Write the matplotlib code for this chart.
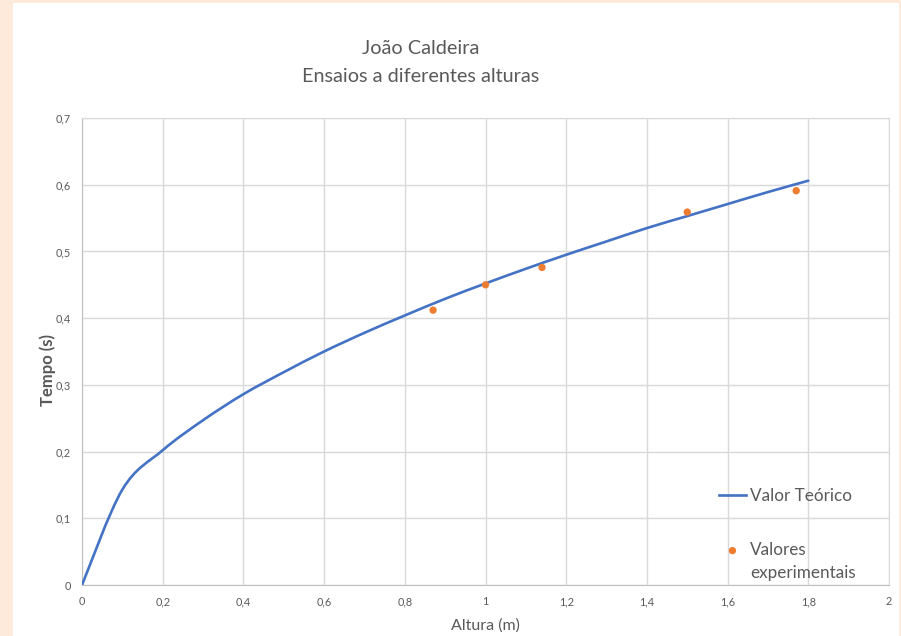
import numpy as np
import matplotlib.pyplot as plt
from matplotlib.path import Path
from matplotlib.patches import PathPatch, Rectangle
from matplotlib.lines import Line2D
from matplotlib.legend_handler import HandlerPathCollection

plt.rcParams['font.family'] = ['Lato', 'DejaVu Sans']

# valor teórico (curva suavizada)
altura_teo = [0, 0.1, 0.2, 0.3, 0.4, 0.5, 0.6, 0.7, 0.8, 0.9, 1.0,
              1.1, 1.2, 1.3, 1.4, 1.5, 1.6, 1.7, 1.8]
tempo_teo = [0, 0.143, 0.202, 0.247, 0.286, 0.319, 0.350, 0.378, 0.404, 0.429,
             0.452, 0.474, 0.495, 0.515, 0.535, 0.553, 0.571, 0.589, 0.606]

# valores experimentais
altura_exp = [0.87, 1.0, 1.14, 1.50, 1.77]
tempo_exp = [0.412, 0.450, 0.476, 0.559, 0.591]

x_ticks = [0, 0.2, 0.4, 0.6, 0.8, 1.0, 1.2, 1.4, 1.6, 1.8, 2.0]
x_labels = ['0', '0,2', '0,4', '0,6', '0,8', '1', '1,2', '1,4', '1,6', '1,8', '2']
y_ticks = [0, 0.1, 0.2, 0.3, 0.4, 0.5, 0.6, 0.7]
y_labels = ['0', '0,1', '0,2', '0,3', '0,4', '0,5', '0,6', '0,7']

txt = '#595959'
grid = '#d9d9d9'
blue = '#4472c4'
orange = '#ed7d31'

fig = plt.figure(figsize=(9.01, 6.36), dpi=100, facecolor='#fdeadb')
fig.patches.append(Rectangle((13 / 901, 0), 886 / 901, 633 / 636,
                             transform=fig.transFigure, facecolor='white',
                             edgecolor='none', zorder=-5))
ax = fig.add_axes([82 / 901, 51 / 636, 807 / 901, 467 / 636])
ax.set_facecolor('white')


# curva suavizada tipo Excel (Bezier Catmull-Rom)
def smooth_path(xs, ys):
    p = np.column_stack([xs, ys]).astype(float)
    verts = [p[0]]
    codes = [Path.MOVETO]
    n = len(p)
    for i in range(n - 1):
        p0 = p[i - 1] if i > 0 else p[i]
        p3 = p[i + 2] if i + 2 < n else p[i + 1]
        c1 = p[i] + (p[i + 1] - p0) / 6
        c2 = p[i + 1] - (p3 - p[i]) / 6
        verts += [c1, c2, p[i + 1]]
        codes += [Path.CURVE4] * 3
    return Path(verts, codes)


ax.add_patch(PathPatch(smooth_path(altura_teo, tempo_teo), facecolor='none',
                       edgecolor=blue, lw=1.9, zorder=3, capstyle='round'))
sc = ax.scatter(altura_exp, tempo_exp, s=28, color=orange, zorder=4,
                edgecolors='none')

ax.set_xlim(0, 2)
ax.set_ylim(0, 0.7)
ax.set_xticks(x_ticks)
ax.set_xticklabels(x_labels)
ax.set_yticks(y_ticks)
ax.set_yticklabels(y_labels)
ax.tick_params(length=0, labelsize=7.8, colors=txt, pad=8)
ax.grid(True, color=grid, lw=1)
ax.set_axisbelow(True)
for s in ax.spines.values():
    s.set_color(grid)
ax.spines['left'].set_color('#bfbfbf')
ax.spines['bottom'].set_color('#bfbfbf')

ax.set_xlabel('Altura (m)', fontsize=11.5, color=txt, labelpad=8)
ax.set_ylabel('Tempo (s)', fontsize=12, color=txt, fontweight='bold')
ax.yaxis.set_label_coords(-0.032, 0.46)

fig.text(421 / 901, 1 - 48 / 636, 'João Caldeira', ha='center', va='center',
         fontsize=14.3, color=txt)
fig.text(421 / 901, 1 - 76 / 636, 'Ensaios a diferentes alturas', ha='center',
         va='center', fontsize=14.3, color=txt)

line_h = Line2D([], [], color=blue, lw=1.9)
leg = ax.legend([line_h, sc], ['Valor Teórico', 'Valores\nexperimentais'],
                loc='upper left', bbox_to_anchor=(0.77, 0.24), frameon=False,
                fontsize=12.3, labelspacing=2.2, handlelength=1.6,
                handletextpad=0.25, labelcolor=txt, scatterpoints=1,
                handler_map={sc: HandlerPathCollection(yoffsets=[1.45])})
leg.get_texts()[1].set_linespacing(1.55)

fig.savefig('out.png', dpi=100, facecolor=fig.get_facecolor())
